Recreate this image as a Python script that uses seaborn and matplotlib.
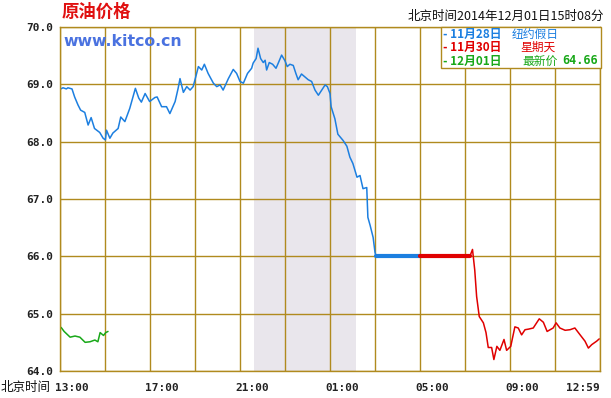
import numpy as np
import pandas as pd
import matplotlib
matplotlib.use("Agg")
import matplotlib.pyplot as plt
import matplotlib.transforms as mtransforms
import seaborn as sns

# data (Beijing time, day starts 13:00)
blue_times = ["13:02", "13:08", "13:17", "13:21", "13:32", "13:39", "13:48", "13:55", "14:06",
              "14:15", "14:23", "14:32", "14:46", "14:55", "15:01", "15:04", "15:13", "15:21",
              "15:35", "15:42", "15:53", "16:06", "16:21", "16:30", "16:37", "16:47", "16:59",
              "17:13", "17:19", "17:31", "17:44", "17:53", "18:07", "18:15", "18:20", "18:29",
              "18:38", "18:47", "18:55", "19:02", "19:09", "19:18", "19:25", "19:35", "19:49",
              "19:58", "20:07", "20:15", "20:29", "20:42", "20:51", "21:00", "21:09", "21:20",
              "21:31", "21:35", "21:43", "21:48", "21:55", "22:02", "22:07", "22:11", "22:18",
              "22:27", "22:36", "22:42", "22:51", "23:00", "23:06", "23:13", "23:22", "23:29",
              "23:35", "23:44", "23:53", "00:02", "00:11", "00:20", "00:29", "00:38", "00:47",
              "00:53", "01:00", "01:03", "01:13", "01:21", "01:35", "01:45", "01:53", "02:01",
              "02:12", "02:20", "02:28", "02:38", "02:41", "02:47", "02:55", "03:00", "03:03"]
blue_prices = [68.92, 68.94, 68.92, 68.94, 68.92, 68.78, 68.64, 68.55, 68.51,
               68.29, 68.42, 68.23, 68.16, 68.06, 68.03, 68.20, 68.06, 68.15,
               68.23, 68.43, 68.35, 68.58, 68.93, 68.76, 68.69, 68.84, 68.70,
               68.77, 68.78, 68.61, 68.61, 68.49, 68.70, 68.93, 69.10, 68.86,
               68.96, 68.90, 68.96, 69.13, 69.31, 69.25, 69.35, 69.19, 69.02,
               68.96, 68.99, 68.90, 69.10, 69.26, 69.19, 69.05, 69.02, 69.19,
               69.28, 69.37, 69.45, 69.63, 69.45, 69.38, 69.42, 69.25, 69.38,
               69.35, 69.28, 69.37, 69.51, 69.41, 69.31, 69.35, 69.33, 69.19,
               69.08, 69.18, 69.13, 69.08, 69.05, 68.90, 68.81, 68.90, 68.99,
               68.96, 68.84, 68.61, 68.40, 68.13, 68.02, 67.92, 67.73, 67.62,
               67.38, 67.41, 67.18, 67.20, 66.68, 66.54, 66.33, 66.07, 66.00]

closed_price = 66.00
blue_flat_times = ["03:03", "05:00"]
red_flat_times = ["05:00", "07:13"]

red_times = ["07:13", "07:20", "07:26", "07:31", "07:38", "07:49", "07:56", "08:02", "08:11",
             "08:17", "08:25", "08:33", "08:44", "08:51", "09:02", "09:13", "09:22", "09:31",
             "09:40", "09:49", "10:02", "10:18", "10:29", "10:39", "10:55", "11:03", "11:13",
             "11:27", "11:40", "11:53", "12:07", "12:20", "12:29", "12:38", "12:51", "12:58"]
red_prices = [66.00, 66.12, 65.76, 65.30, 64.95, 64.84, 64.67, 64.41, 64.41,
              64.20, 64.43, 64.36, 64.55, 64.36, 64.43, 64.77, 64.75, 64.63,
              64.72, 64.73, 64.75, 64.91, 64.85, 64.69, 64.75, 64.84, 64.75,
              64.71, 64.72, 64.75, 64.63, 64.52, 64.40, 64.46, 64.52, 64.56]

green_times = ["13:03", "13:11", "13:27", "13:40", "13:53", "14:07", "14:20", "14:33",
               "14:41", "14:47", "14:56", "15:02", "15:08"]
green_prices = [64.76, 64.69, 64.59, 64.61, 64.59, 64.50, 64.51, 64.54,
                64.51, 64.67, 64.62, 64.67, 64.69]

shade_span = ["21:37", "02:09"]
x_labels = ["13:00", "17:00", "21:00", "01:00", "05:00", "09:00", "12:59"]
y_ticks = [64.0, 65.0, 66.0, 67.0, 68.0, 69.0, 70.0]

legend_dates = ["11月28日", "11月30日", "12月01日"]
legend_notes = ["纽约假日", "星期天", "最新价"]
last_price = "64.66"
stamp = "北京时间2014年12月01日15时08分"

GRID = "#B08A1E"
BLUE = "#1C7FE0"
RED = "#E00000"
GREEN = "#18A818"


def hrs(t):
    h, m = map(int, t.split(":"))
    return ((h - 13) % 24) + m / 60.0


def frame(times, prices):
    return pd.DataFrame({"t": [hrs(t) for t in times], "p": prices})


sns.set_style("white")
plt.rcParams['font.family'] = ['Noto Sans CJK SC', 'DejaVu Sans']

fig = plt.figure(figsize=(6.11, 3.98), dpi=100)
ax = fig.add_axes([60 / 611, 27 / 398, 540 / 611, 344 / 398])

ax.axvspan(hrs(shade_span[0]), hrs(shade_span[1]), color="#E9E6EC", lw=0, zorder=0)

sns.lineplot(data=frame(blue_times, blue_prices), x="t", y="p", color=BLUE, lw=1.1, ax=ax)
sns.lineplot(data=frame(red_times, red_prices), x="t", y="p", color=RED, lw=1.1, ax=ax)
sns.lineplot(data=frame(green_times, green_prices), x="t", y="p", color=GREEN, lw=1.1, ax=ax)
sns.lineplot(data=frame(blue_flat_times, [closed_price] * 2), x="t", y="p", color=BLUE, lw=3, ax=ax)
sns.lineplot(data=frame(red_flat_times, [closed_price] * 2), x="t", y="p", color=RED, lw=3, ax=ax)

ax.set_xlim(0, 24)
ax.set_ylim(64, 70)
ax.set_xticks(np.arange(0, 25, 2))
ax.set_xticklabels([])
ax.set_yticks(y_ticks)
ax.set_yticklabels(["%.1f" % v for v in y_ticks], family="DejaVu Sans Mono",
                   fontweight="bold", fontsize=8, color="#222222")
ax.tick_params(length=0, pad=5)
ax.grid(True, color=GRID, lw=1.0)
ax.set_axisbelow(True)
for s in ax.spines.values():
    s.set_color(GRID)
    s.set_linewidth(1.0)
ax.set_xlabel("")
ax.set_ylabel("")

# x labels: left of each label sits just before its grid line
tr = mtransforms.blended_transform_factory(ax.transData, fig.transFigure)
for lab in x_labels:
    xv = hrs(lab)
    if lab == x_labels[-1]:
        ax.text(24, 10 / 398, lab, transform=tr, ha="right", va="center", fontsize=8,
                family="DejaVu Sans Mono", fontweight="bold", color="#222222")
    else:
        ax.text(xv - 0.2, 10 / 398, lab, transform=tr, ha="left", va="center", fontsize=8,
                family="DejaVu Sans Mono", fontweight="bold", color="#222222")
fig.text(1 / 611, 10 / 398, "北京时间", ha="left", va="center", fontsize=9, color="#111111")

# header texts
fig.text(62 / 611, 1 - 12 / 398, "原油价格", ha="left", va="center", fontsize=12.5,
         fontweight="bold", color="#E01010")
fig.text(604 / 611, 1 - 16 / 398, stamp, ha="right", va="center", fontsize=9, color="#111111")
fig.text(63 / 611, 1 - 41 / 398, "www.kitco.cn", ha="left", va="center", fontsize=11.3,
         fontweight="bold", color="#4A72E0", family="DejaVu Sans")

# legend box in the top right corner
box = plt.Rectangle((441 / 611, 1 - 68 / 398), 160 / 611, 41 / 398, transform=fig.transFigure,
                    facecolor="white", edgecolor=GRID, lw=1.0, zorder=5)
fig.patches.append(box)
cols = [BLUE, RED, GREEN]
rows_y = [34, 47, 61]
note_x = [512, 520, 522]
for d, n, c, y, nx in zip(legend_dates, legend_notes, cols, rows_y, note_x):
    fig.text(443 / 611, 1 - y / 398, "- " + d, ha="left", va="center", fontsize=8.5,
             color=c, fontweight="bold", zorder=6)
    fig.text(nx / 611, 1 - y / 398, n, ha="left", va="center", fontsize=8.5, color=c, zorder=6)
fig.text(598 / 611, 1 - 61 / 398, last_price, ha="right", va="center", fontsize=8.5,
         color=GREEN, fontweight="bold", family="DejaVu Sans Mono", zorder=6)

fig.savefig("out.png", dpi=100)
